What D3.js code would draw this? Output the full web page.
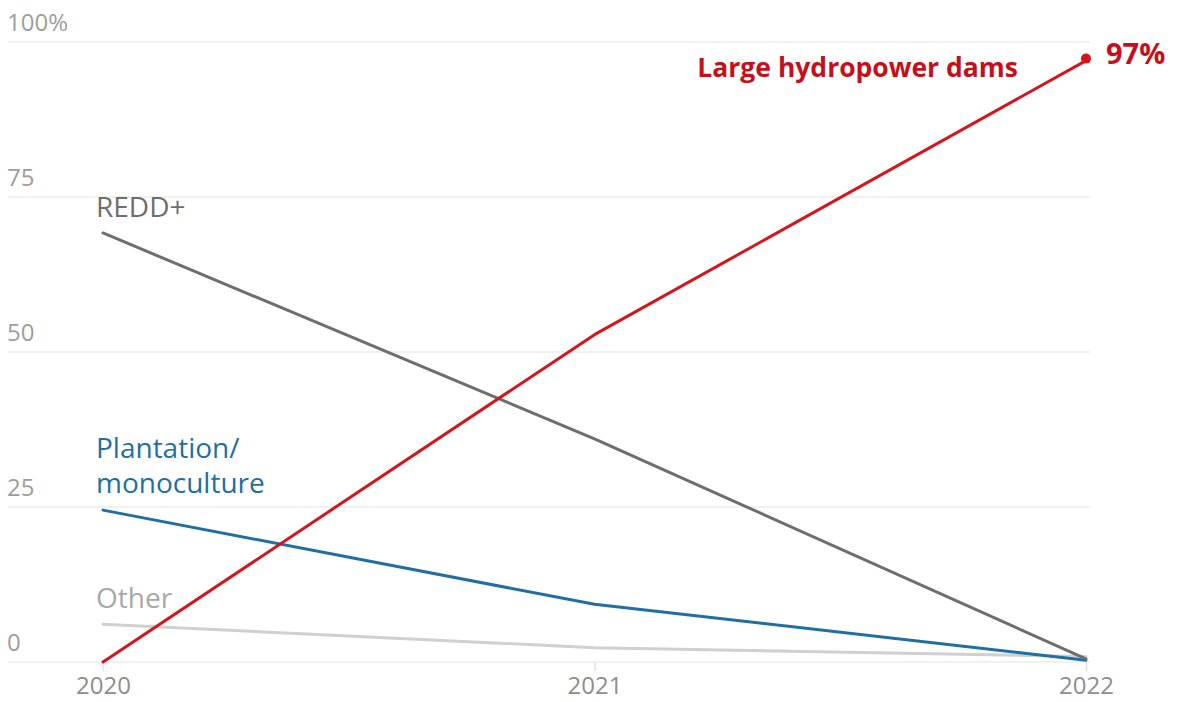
<!DOCTYPE html>
<html>
<head>
<meta charset="utf-8">
<script src="https://cdn.jsdelivr.net/npm/d3@7"></script>
<style>
  html, body { margin: 0; padding: 0; background: #fff; }
  svg { display: block; font-family: "Open Sans", "Noto Sans", sans-serif; }
</style>
</head>
<body>
<svg id="chart" width="1178" height="702"></svg>
<script>
// Share of funding by project type, 2020–2022 (%)
const years = [2020, 2021, 2022];
const hydropower = [0, 52.8, 97];
const redd = [69.2, 36, 0.5];
const plantation = [24.5, 9.3, 0.3];
const other = [6.1, 2.3, 0.9];
const yTicks = [0, 25, 50, 75, 100];

const series = [
  { name: "Other", values: other, color: "#d0d0d0", labelColor: "#a8a8a8" },
  { name: "Plantation/monoculture", values: plantation, color: "#1f6fa3", labelColor: "#1f6fa3" },
  { name: "REDD+", values: redd, color: "#6e6e6e", labelColor: "#6e6e6e" },
  { name: "Large hydropower dams", values: hydropower, color: "#d4161c", labelColor: "#c70f1b" }
];

const svg = d3.select("#chart");
const x = d3.scalePoint().domain(years).range([103, 1086]);
const y = d3.scaleLinear().domain([0, 100]).range([662, 42]);

// Gridlines and y tick labels
const grid = svg.append("g");
grid.selectAll("line").data(yTicks).join("line")
  .attr("x1", 8).attr("x2", 1090)
  .attr("y1", d => y(d)).attr("y2", d => y(d))
  .attr("stroke", "#ececec").attr("stroke-width", 1.5);
grid.selectAll("text").data(yTicks).join("text")
  .attr("x", 7).attr("y", d => y(d) - 11)
  .attr("fill", "#9e9e9e").attr("font-size", 24)
  .text(d => d === 100 ? "100%" : d);

// x axis
const xAxis = svg.append("g").attr("transform", `translate(0,${y(0)})`)
  .call(d3.axisBottom(x).tickSize(9).tickPadding(6).tickFormat(d3.format("d")));
xAxis.select(".domain").remove();
xAxis.selectAll(".tick line").attr("stroke", "#e2e2e2").attr("stroke-width", 1.5);
xAxis.selectAll(".tick text")
  .attr("y", 32).attr("dy", 0)
  .attr("fill", "#8e8e8e").attr("font-size", 24)
  .attr("font-family", "\"Open Sans\", sans-serif");

// Lines
const line = d3.line()
  .x((d, i) => x(years[i]))
  .y(d => y(d));

svg.append("g").selectAll("path").data(series).join("path")
  .attr("d", s => line(s.values))
  .attr("fill", "none")
  .attr("stroke", s => s.color)
  .attr("stroke-width", 3)
  .attr("stroke-linejoin", "round")
  .attr("stroke-linecap", "round");

// End point for hydropower
svg.append("circle")
  .attr("cx", x(2022)).attr("cy", y(hydropower[2]) - 2)
  .attr("r", 5).attr("fill", "#d4161c");
svg.append("text")
  .attr("x", x(2022) + 20).attr("y", 64)
  .attr("fill", "#c70f1b").attr("font-size", 29).attr("font-weight", 700)
  .text(d3.format("d")(hydropower[2]) + "%");

// Series labels
const labels = svg.append("g").attr("font-size", 28);
labels.append("text").attr("x", 96).attr("y", y(redd[0]) - 16)
  .attr("fill", series[2].labelColor).text("REDD+");
labels.append("text").attr("x", 96).attr("y", y(plantation[0]) - 52)
  .attr("fill", series[1].labelColor).text("Plantation/");
labels.append("text").attr("x", 96).attr("y", y(plantation[0]) - 17)
  .attr("fill", series[1].labelColor).text("monoculture");
labels.append("text").attr("x", 96).attr("y", y(other[0]) - 16)
  .attr("fill", series[0].labelColor).text("Other");
labels.append("text").attr("x", 1018).attr("y", 77).attr("text-anchor", "end")
  .attr("font-size", 26.5)
  .attr("font-weight", 700).attr("fill", series[3].labelColor).text("Large hydropower dams");
</script>
</body>
</html>
